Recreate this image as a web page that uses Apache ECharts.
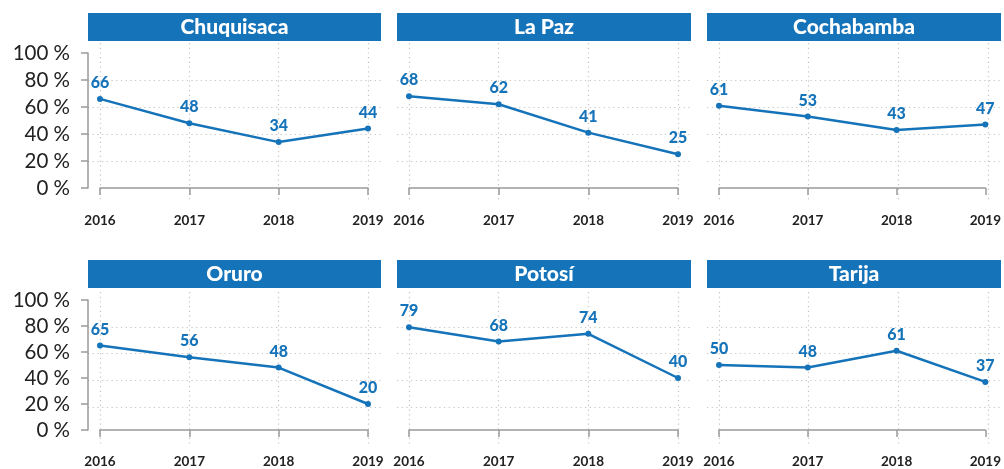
<!DOCTYPE html>
<html><head><meta charset="utf-8">
<script src="https://cdn.jsdelivr.net/npm/echarts@6/dist/echarts.min.js"></script>
<style>html,body{margin:0;padding:0;background:#fff}#c{width:1004px;height:469px}</style>
</head><body><div id="c"></div>
<script>
const years = ['2016', '2017', '2018', '2019'];
const regions = ['Chuquisaca', 'La Paz', 'Cochabamba', 'Oruro', 'Potosí', 'Tarija'];
const chuquisaca = [66, 48, 34, 44];
const laPaz = [68, 62, 41, 25];
const cochabamba = [61, 53, 43, 47];
const oruro = [65, 56, 48, 20];
const potosi = [79, 68, 74, 40];
const tarija = [50, 48, 61, 37];
const yGridValues = [20, 40, 60, 80];

const seriesData = [chuquisaca, laPaz, cochabamba, oruro, potosi, tarija];
const BLUE = '#1573b9';
const AXIS = '#9a9a9a';
const GRIDC = '#c4c4c4';

// layout
const colLeft = [100, 409, 719];
const colWidth = [268, 269, 269];
const rowTop = [53, 300];
const rowHeight = [135, 134];
const xOff = [14, 13];
const gridExtTop = [10, 8];
const titleTop = [13, 260];

const grid = [], xAxis = [], yAxis = [], series = [], graphic = [];
regions.forEach((name, i) => {
  const r = Math.floor(i / 3), c = i % 3;
  const L = colLeft[c], W = colWidth[c], T = rowTop[r], H = rowHeight[r];
  const ppx = W / (years.length - 1);
  const ppy = H / 100;
  // data grid
  grid.push({ left: L, top: T, width: W, height: H, containLabel: false });
  const gA = grid.length - 1;
  xAxis.push({
    gridIndex: gA, type: 'category', data: years, boundaryGap: false, offset: xOff[r],
    axisLine: { show: true, lineStyle: { color: AXIS, width: 1.5 } },
    axisTick: { show: true, length: 7, alignWithLabel: true, lineStyle: { color: AXIS, width: 1.5 } },
    axisLabel: { margin: 12, color: '#222', fontFamily: 'Lato', fontWeight: 'bold', fontSize: 13.5 },
    splitLine: { show: false }
  });
  yAxis.push({
    gridIndex: gA, type: 'value', min: 0, max: 100, interval: 20, offset: 12,
    show: c === 0,
    axisLine: { show: true, lineStyle: { color: AXIS, width: 1.5 } },
    axisTick: { show: true, length: 7, lineStyle: { color: AXIS, width: 1.5 } },
    axisLabel: { margin: 18, color: '#222', fontFamily: 'Lato', fontSize: 20.5, formatter: '{value} %' },
    splitLine: { show: false }
  });
  // gridline grid (extended area)
  const extL = 12, extR = 13, extT = gridExtTop[r], extB = xOff[r];
  grid.push({ left: L - extL, top: T - extT, width: W + extL + extR, height: H + extT + extB, containLabel: false, z: 0 });
  const gB = grid.length - 1;
  xAxis.push({
    gridIndex: gB, type: 'value', min: -extL / ppx, max: (years.length - 1) + extR / ppx,
    axisLine: { show: false }, axisLabel: { show: false },
    axisTick: { show: false, customValues: years.map((y, k) => k) },
    splitLine: { show: true, lineStyle: { color: GRIDC, type: [1.2, 3.5], width: 1.2 } }, z: 0
  });
  yAxis.push({
    gridIndex: gB, type: 'value', min: -extB / ppy, max: 100 + extT / ppy,
    axisLine: { show: false }, axisLabel: { show: false },
    axisTick: { show: false, customValues: yGridValues },
    splitLine: { show: true, lineStyle: { color: GRIDC, type: [1.2, 3.5], width: 1.2 } }, z: 0
  });
  series.push({
    type: 'line', xAxisIndex: gA, yAxisIndex: gA, data: seriesData[i],
    symbol: 'circle', symbolSize: 6, z: 5,
    lineStyle: { color: BLUE, width: 2.5 },
    itemStyle: { color: BLUE },
    label: { show: true, position: 'top', distance: 5, color: BLUE, fontFamily: 'Lato', fontWeight: 900, fontSize: 16 }
  });
  graphic.push({
    type: 'rect', shape: { x: L - extL, y: titleTop[r], width: W + extL + extR, height: 28 },
    style: { fill: BLUE }, z: 10
  });
  graphic.push({
    type: 'text', x: L - extL + (W + extL + extR) / 2, y: titleTop[r] + 14.5,
    style: { text: name, fill: '#fff', font: '900 21px Lato', align: 'center', verticalAlign: 'middle',
             textAlign: 'center', textVerticalAlign: 'middle' }, z: 11
  });
});

const chart = echarts.init(document.getElementById('c'), null, { renderer: 'canvas' });
chart.setOption({ animation: false, backgroundColor: '#fff', grid, xAxis, yAxis, series, graphic });
</script></body></html>
